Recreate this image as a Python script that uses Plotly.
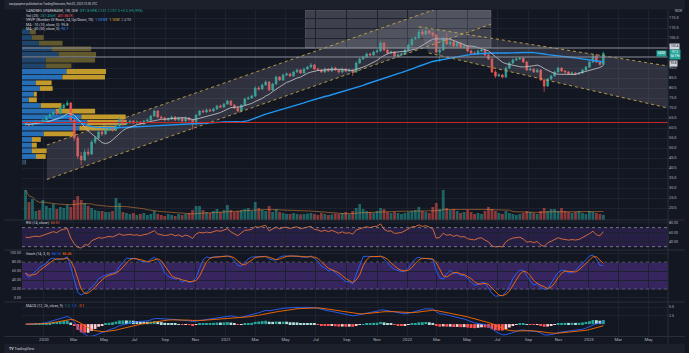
import numpy as np
import pandas as pd
import plotly.graph_objects as go

# ------------------------------------------------------------------ data
week_start = "2019-11-25"

opens = [61.8, 62.0, 61.5, 62.5, 63.0, 62.6, 64.0, 65.5, 66.8, 68.0,
         67.2, 70.0, 71.5, 72.5, 64.0, 55.0, 46.0, 44.0, 48.0, 47.0,
         53.0, 55.0, 58.0, 57.0, 59.0, 60.0, 59.0, 61.0, 64.0, 62.0,
         62.5, 63.5, 62.5, 63.0, 62.0, 63.5, 64.0, 66.0, 68.5, 65.5,
         65.0, 64.0, 64.5, 65.5, 64.0, 65.0, 63.5, 65.0, 64.0, 62.0,
         66.5, 68.5, 68.0, 69.0, 68.5, 69.5, 71.0, 70.5, 72.0, 73.5,
         71.5, 70.0, 68.5, 71.5, 74.5, 75.0, 76.0, 80.0, 79.5, 81.5,
         83.0, 79.0, 82.0, 85.5, 84.0, 86.5, 87.0, 86.0, 88.0, 89.0,
         87.5, 89.5, 90.5, 91.5, 89.5, 89.0, 88.0, 89.5, 88.5, 90.0,
         89.0, 88.0, 89.5, 88.5, 89.0, 88.0, 92.5, 94.5, 95.5, 97.0,
         96.5, 98.0, 98.5, 102.5, 99.0, 97.5, 98.0, 96.0, 96.5, 97.0,
         99.0, 101.5, 104.5, 105.0, 108.0, 107.0, 108.5, 107.5, 106.5, 98.0,
         99.0, 104.5, 102.0, 103.0, 101.0, 102.5, 100.5, 101.0, 98.5, 97.5,
         97.0, 98.5, 99.0, 96.5, 94.5, 88.0, 86.0, 86.5, 85.5, 90.0,
         92.5, 94.0, 94.5, 95.0, 93.0, 89.0, 89.5, 88.0, 89.0, 84.0,
         81.0, 84.5, 86.0, 88.0, 90.0, 88.5, 88.0, 87.0, 87.5, 87.0,
         87.5, 89.0, 90.5, 93.0, 96.0, 93.0, 91.8]

highs = [62.8, 62.6, 63.2, 63.8, 63.6, 64.6, 66.2, 67.5, 68.8, 69.0,
         70.8, 72.3, 73.8, 73.0, 64.5, 56.0, 48.0, 49.5, 50.0, 54.0,
         56.0, 58.8, 59.2, 59.8, 61.0, 60.8, 61.6, 65.5, 64.5, 63.3,
         64.2, 64.0, 63.8, 63.5, 64.0, 64.8, 66.6, 69.2, 69.0, 66.2,
         65.6, 65.3, 66.2, 66.0, 65.6, 65.5, 65.8, 65.5, 64.5, 67.0,
         69.0, 69.2, 69.8, 69.6, 70.2, 71.6, 71.8, 72.6, 74.2, 74.0,
         72.0, 71.0, 72.0, 75.2, 75.8, 76.8, 80.8, 81.0, 82.2, 83.8,
         83.5, 82.6, 86.2, 86.0, 87.2, 87.8, 87.6, 88.6, 89.8, 89.5,
         90.2, 91.2, 92.5, 92.0, 90.2, 89.6, 90.2, 90.0, 90.8, 90.6,
         89.5, 90.2, 90.0, 89.8, 89.4, 93.2, 95.2, 96.2, 97.8, 97.6,
         98.7, 99.5, 103.5, 103.0, 99.6, 98.8, 98.5, 97.3, 97.8, 99.8,
         102.3, 105.3, 106.0, 109.5, 109.0, 109.3, 109.0, 108.2, 107.0, 100.5,
         105.5, 107.5, 104.0, 103.8, 103.5, 103.0, 102.0, 101.5, 99.2, 98.2,
         99.3, 100.0, 99.5, 97.0, 95.0, 89.0, 87.5, 87.2, 90.6, 93.2,
         94.8, 95.3, 95.6, 95.4, 93.5, 90.3, 90.0, 89.8, 89.5, 84.6,
         85.0, 86.6, 88.6, 90.6, 90.4, 89.0, 88.5, 88.2, 88.0, 88.0,
         89.6, 91.0, 93.6, 96.8, 97.0, 93.8, 98.2]

lows = [61.0, 60.8, 61.0, 62.0, 62.0, 62.3, 63.5, 65.0, 66.2, 66.5,
        66.8, 69.5, 71.0, 63.0, 53.5, 44.5, 41.5, 43.5, 46.0, 46.5,
        52.0, 54.5, 56.0, 56.5, 58.5, 58.2, 58.5, 60.5, 61.0, 61.5,
        62.0, 62.0, 62.0, 61.5, 61.5, 63.0, 63.5, 65.5, 65.0, 64.5,
        63.5, 63.5, 64.0, 63.5, 63.5, 63.0, 63.0, 63.5, 59.0, 61.5,
        66.0, 67.5, 67.5, 68.0, 68.0, 69.0, 70.0, 70.0, 71.5, 71.0,
        69.5, 67.8, 68.0, 71.0, 74.0, 74.5, 75.5, 78.8, 79.0, 81.0,
        78.5, 78.5, 81.5, 83.5, 83.5, 86.0, 85.5, 85.5, 87.5, 87.0,
        87.0, 89.0, 90.0, 89.0, 88.5, 87.5, 87.5, 88.0, 88.0, 88.5,
        87.2, 87.5, 88.0, 88.0, 86.0, 87.5, 92.0, 94.0, 95.0, 96.0,
        96.0, 97.5, 98.0, 98.5, 96.5, 96.8, 95.5, 95.2, 96.0, 96.5,
        98.5, 101.0, 104.0, 104.5, 106.0, 106.5, 106.8, 105.5, 97.5, 93.0,
        98.5, 101.5, 101.0, 100.5, 100.5, 100.0, 99.8, 98.0, 96.8, 96.5,
        96.5, 98.0, 96.0, 94.0, 87.5, 85.0, 85.5, 84.8, 85.0, 89.5,
        92.0, 93.5, 94.0, 92.5, 88.5, 88.5, 87.5, 87.5, 83.5, 78.0,
        80.5, 84.0, 85.5, 87.5, 88.0, 87.2, 86.5, 86.5, 86.3, 86.5,
        87.0, 88.5, 90.0, 92.5, 92.5, 91.2, 91.2]

closes = [62.0, 61.5, 62.5, 63.0, 62.6, 64.0, 65.5, 66.8, 68.0, 67.2,
          70.0, 71.5, 72.5, 64.0, 55.0, 46.0, 44.0, 48.0, 47.0, 53.0,
          55.0, 58.0, 57.0, 59.0, 60.0, 59.0, 61.0, 64.0, 62.0, 62.5,
          63.5, 62.5, 63.0, 62.0, 63.5, 64.0, 66.0, 68.5, 65.5, 65.0,
          64.0, 64.5, 65.5, 64.0, 65.0, 63.5, 65.0, 64.0, 62.0, 66.5,
          68.5, 68.0, 69.0, 68.5, 69.5, 71.0, 70.5, 72.0, 73.5, 71.5,
          70.0, 68.5, 71.5, 74.5, 75.0, 76.0, 80.0, 79.5, 81.5, 83.0,
          79.0, 82.0, 85.5, 84.0, 86.5, 87.0, 86.0, 88.0, 89.0, 87.5,
          89.5, 90.5, 91.5, 89.5, 89.0, 88.0, 89.5, 88.5, 90.0, 89.0,
          88.0, 89.5, 88.5, 89.0, 88.0, 92.5, 94.5, 95.5, 97.0, 96.5,
          98.0, 98.5, 102.5, 99.0, 97.5, 98.0, 96.0, 96.5, 97.0, 99.0,
          101.5, 104.5, 105.0, 108.0, 107.0, 108.5, 107.5, 106.5, 98.0, 99.0,
          104.5, 102.0, 103.0, 101.0, 102.5, 100.5, 101.0, 98.5, 97.5, 97.0,
          98.5, 99.0, 96.5, 94.5, 88.0, 86.0, 86.5, 85.5, 90.0, 92.5,
          94.0, 94.5, 95.0, 93.0, 89.0, 89.5, 88.0, 89.0, 84.0, 81.0,
          84.5, 86.0, 88.0, 90.0, 88.5, 88.0, 87.0, 87.5, 87.0, 87.5,
          89.0, 90.5, 93.0, 96.0, 93.0, 91.8, 97.3]

volumes_k = [1500, 900, 1050, 450, 500, 1000, 700, 600, 800, 550,
             650, 600, 750, 650, 1000, 1200, 1000, 850, 700, 600,
             500, 450, 450, 400, 400, 450, 1100, 850, 400, 350,
             300, 350, 250, 300, 350, 250, 300, 450, 300, 250,
             200, 300, 250, 200, 300, 250, 300, 350, 500, 700,
             700, 500, 400, 350, 450, 550, 400, 500, 750, 500,
             400, 450, 500, 550, 600, 450, 900, 600, 500, 450,
             700, 400, 550, 400, 350, 300, 300, 350, 300, 280,
             300, 320, 350, 300, 250, 350, 300, 250, 280, 320,
             300, 350, 400, 300, 450, 600, 800, 550, 450, 400,
             350, 450, 600, 550, 400, 350, 400, 350, 300, 350,
             400, 450, 500, 650, 450, 400, 350, 650, 850, 550,
             1500, 600, 500, 550, 450, 350, 400, 500, 400, 300,
             350, 300, 450, 650, 550, 450, 350, 300, 450, 350,
             300, 250, 300, 350, 450, 400, 350, 300, 450, 600,
             450, 550, 550, 450, 600, 450, 400, 350, 400, 450,
             350, 300, 450, 400, 350, 300, 257]

# volume profile (24 rows, bottom row first), thousand shares
vp_up_k = [180, 840, 600, 600, 600, 1320, 3480, 3960, 3600, 2040, 1140, 420,
           720, 1080, 840, 2460, 2700, 1440, 1440, 2220, 1800, 1020, 600, 480]
vp_down_k = [60, 600, 900, 300, 540, 1920, 2220, 2400, 2700, 2400, 1260, 480,
             180, 780, 960, 2580, 2400, 1560, 3000, 2280, 2400, 1440, 720, 360]
vp_in_value_area = [False] + [True] * 16 + [False] * 7

tick_dates = ["2020-01-01", "2020-03-01", "2020-05-01", "2020-07-01", "2020-09-01", "2020-11-01",
              "2021-01-01", "2021-03-01", "2021-05-01", "2021-07-01", "2021-09-01", "2021-11-01",
              "2022-01-01", "2022-03-01", "2022-05-01", "2022-07-01", "2022-09-01", "2022-11-01",
              "2023-01-01", "2023-03-01", "2023-05-01"]
tick_text = ["2020", "Mar", "May", "Jul", "Sep", "Nov",
             "2021", "Mar", "May", "Jul", "Sep", "Nov",
             "2022", "Mar", "May", "Jul", "Sep", "Nov",
             "2023", "Mar", "May"]
# price scale labels (100 and 95 are hidden behind the price tags)
price_ticks = [20, 25, 30, 35, 40, 45, 50, 55, 60, 65, 70, 75, 80, 85, 90, 105, 110, 115]

# user drawings (date, price)
asc_upper = [("2020-01-07", 51.5), ("2022-06-18", 129.1)]
asc_lower = [("2020-01-07", 34.25), ("2022-06-18", 111.9)]
desc_upper = [("2022-01-24", 110.6), ("2023-06-09", 91.0)]
desc_lower = [("2022-02-13", 97.5), ("2023-06-09", 70.0)]
box_zone = [("2021-06-10", 100.0), ("2022-06-18", 119.0)]
hlines = [100.0, 95.5]

n = len(closes)
for arr in (opens, highs, lows, volumes_k):
    assert len(arr) == n
assert len(vp_up_k) == len(vp_down_k) == len(vp_in_value_area)

dates = pd.date_range(week_start, periods=n, freq="W-MON")

# ------------------------------------------------------------------ indicators
c = pd.Series(closes)
ma10 = c.rolling(10, min_periods=1).mean()
ma50 = c.rolling(50, min_periods=1).mean()

# RSI (Wilder), warm-started from a neutral state
d = np.diff(np.array(closes), prepend=closes[0])
seed = float(np.mean(np.abs(d[1:15]))) / 2
ag, al = seed, seed
rsi = []
for x in d:
    ag = (ag * 13 + max(x, 0.0)) / 14
    al = (al * 13 + max(-x, 0.0)) / 14
    rsi.append(100 * ag / (ag + al))

hh = pd.Series(highs).rolling(14, min_periods=1).max()
ll = pd.Series(lows).rolling(14, min_periods=1).min()
raw_k = 100 * (c - ll) / (hh - ll)
st_k = raw_k.rolling(3, min_periods=1).mean()
st_d = st_k.rolling(3, min_periods=1).mean()

ema12 = c.ewm(span=12, adjust=False).mean()
ema26 = c.ewm(span=26, adjust=False).mean()
macd = ema12 - ema26
signal = macd.ewm(span=9, adjust=False).mean()
hist = macd - signal
hist_col = []
for i in range(n):
    h = hist[i]
    prev = hist[i - 1] if i > 0 else 0
    if h >= 0:
        hist_col.append("#26a69a" if h >= prev else "#b2dfdb")
    else:
        hist_col.append("#ff5252" if h < prev else "#ffcdd2")

vol_ma = pd.Series(volumes_k).rolling(20, min_periods=1).mean()
vol_col = ["rgba(38,166,154,0.55)" if cl >= op else "rgba(239,83,80,0.55)" for op, cl in zip(opens, closes)]

# ------------------------------------------------------------------ layout helpers
W, H = 689, 353
ML, MR, MT, MB = 18, 17, 10, 17
PW, PH = W - ML - MR, H - MT - MB
FONT = "Roboto"
X_RANGE = ["2019-11-18", "2023-06-09"]


def px(x):
    return (x - ML) / PW


def py(y):
    return (H - MB - y) / PH


fig = go.Figure()

# volume profile as horizontal bars on the date axis
lo, hi = min(lows), max(highs)
nrows = len(vp_up_k)
step = (hi - lo) / nrows
centers = [lo + step * (k + 0.5) for k in range(nrows)]
x_left = pd.Timestamp(X_RANGE[0])
span_ms = (pd.Timestamp(X_RANGE[1]) - x_left).total_seconds() * 1000
VP_FULL_K = 39240.0
ms_per_k = span_ms / VP_FULL_K
up_col = ["rgba(41,121,200,0.9)" if v else "rgba(33,74,116,0.9)" for v in vp_in_value_area]
dn_col = ["rgba(214,168,44,0.9)" if v else "rgba(108,95,48,0.9)" for v in vp_in_value_area]
fig.add_trace(go.Bar(orientation="h", y=centers, x=[v * ms_per_k for v in vp_up_k],
                     base=[x_left.isoformat()] * nrows, width=step * 0.84,
                     marker=dict(color=up_col, line=dict(width=0)), hoverinfo="skip"))
fig.add_trace(go.Bar(orientation="h", y=centers, x=[v * ms_per_k for v in vp_down_k],
                     base=[(x_left + pd.Timedelta(milliseconds=v * ms_per_k)).isoformat() for v in vp_up_k],
                     width=step * 0.84, marker=dict(color=dn_col, line=dict(width=0)), hoverinfo="skip"))
poc_row = int(np.argmax(np.array(vp_up_k) + np.array(vp_down_k)))
poc_price = centers[poc_row]

# channels (fill + dotted borders)
GOLD = "rgba(196,164,72,0.9)"
for up, dn in ((asc_upper, asc_lower), (desc_upper, desc_lower)):
    fig.add_trace(go.Scatter(x=[up[0][0], up[1][0], dn[1][0], dn[0][0], up[0][0]],
                             y=[up[0][1], up[1][1], dn[1][1], dn[0][1], up[0][1]],
                             mode="lines", fill="toself", fillcolor="rgba(150,150,162,0.22)",
                             line=dict(width=0), hoverinfo="skip"))
    for ln in (up, dn):
        fig.add_trace(go.Scatter(x=[ln[0][0], ln[1][0]], y=[ln[0][1], ln[1][1]], mode="lines",
                                 line=dict(color=GOLD, width=1, dash="dot"), hoverinfo="skip"))

# volume
fig.add_trace(go.Bar(x=dates, y=volumes_k, yaxis="y2", marker=dict(color=vol_col, line=dict(width=0)),
                     hoverinfo="skip"))
fig.add_trace(go.Scatter(x=dates, y=vol_ma, yaxis="y2", mode="lines",
                         line=dict(color="rgba(230,140,60,0.65)", width=0.8), hoverinfo="skip"))

# moving averages and candles
fig.add_trace(go.Scatter(x=dates, y=ma50, mode="lines", line=dict(color="#2196f3", width=1.4), hoverinfo="skip"))
fig.add_trace(go.Scatter(x=dates, y=ma10, mode="lines", line=dict(color="#b8bac2", width=0.9), hoverinfo="skip"))
fig.add_trace(go.Candlestick(x=dates, open=opens, high=highs, low=lows, close=closes,
                             increasing=dict(line=dict(color="#26a69a", width=0.7), fillcolor="#26a69a"),
                             decreasing=dict(line=dict(color="#ef5350", width=0.7), fillcolor="#ef5350"),
                             whiskerwidth=0, hoverinfo="skip"))

# RSI
fig.add_trace(go.Scatter(x=dates, y=rsi, yaxis="y3", mode="lines",
                         line=dict(color="#e0703c", width=0.9), hoverinfo="skip"))
# Stoch
fig.add_trace(go.Scatter(x=dates, y=st_k, yaxis="y4", mode="lines", line=dict(color="#2962ff", width=0.9),
                         hoverinfo="skip"))
fig.add_trace(go.Scatter(x=dates, y=st_d, yaxis="y4", mode="lines", line=dict(color="#ff6d00", width=0.9),
                         hoverinfo="skip"))
# MACD
fig.add_trace(go.Bar(x=dates, y=hist, yaxis="y5", marker=dict(color=hist_col, line=dict(width=0)),
                     hoverinfo="skip"))
fig.add_trace(go.Scatter(x=dates, y=macd, yaxis="y5", mode="lines", line=dict(color="#2962ff", width=0.9),
                         hoverinfo="skip"))
fig.add_trace(go.Scatter(x=dates, y=signal, yaxis="y5", mode="lines", line=dict(color="#ff6d00", width=0.9),
                         hoverinfo="skip"))

GRID = "#1e2230"
TICKC = "#b2b5be"
SEP = "#2a2e39"
shapes = []
# header / footer strips
shapes.append(dict(type="rect", xref="paper", yref="paper", x0=px(0), x1=px(W), y0=py(MT - 0.5), y1=py(0),
                   fillcolor="#1c202b", line=dict(width=0), layer="below"))
shapes.append(dict(type="rect", xref="paper", yref="paper", x0=px(0), x1=px(W), y0=py(H), y1=py(344),
                   fillcolor="#1c202b", line=dict(width=0), layer="below"))
# drawn box
shapes.append(dict(type="rect", xref="x", yref="y", x0=box_zone[0][0], x1=box_zone[1][0],
                   y0=box_zone[0][1], y1=box_zone[1][1], fillcolor="rgba(185,185,195,0.26)",
                   line=dict(color="rgba(160,160,170,0.5)", width=0.6), layer="below"))
for hv in hlines:
    shapes.append(dict(type="line", xref="x domain", yref="y", x0=0, x1=1, y0=hv, y1=hv,
                       line=dict(color="#8d9099", width=1)))
shapes.append(dict(type="line", xref="x domain", yref="y", x0=0, x1=1, y0=poc_price, y1=poc_price,
                   line=dict(color="#c62828", width=1)))
# RSI band
shapes.append(dict(type="rect", xref="x domain", yref="y3", x0=0, x1=1, y0=30, y1=70,
                   fillcolor="rgba(110,60,190,0.24)", line=dict(width=0), layer="below"))
for lv in (70, 30):
    shapes.append(dict(type="line", xref="x domain", yref="y3", x0=0, x1=1, y0=lv, y1=lv,
                       line=dict(color="#8a8d96", width=0.8, dash="dot")))
# Stoch band
shapes.append(dict(type="rect", xref="x domain", yref="y4", x0=0, x1=1, y0=20, y1=80,
                   fillcolor="rgba(110,60,190,0.40)", line=dict(width=0), layer="below"))
for lv in (80, 20):
    shapes.append(dict(type="line", xref="x domain", yref="y4", x0=0, x1=1, y0=lv, y1=lv,
                       line=dict(color="#6e6a86", width=0.7, dash="dot")))
# pane separators
for yy in (220, 250, 302, 336.5):
    shapes.append(dict(type="line", xref="paper", yref="paper", x0=px(0), x1=px(W), y0=py(yy), y1=py(yy),
                       line=dict(color=SEP, width=1)))
shapes.append(dict(type="line", xref="paper", yref="paper", x0=1, x1=1, y0=py(344), y1=py(MT),
                   line=dict(color=SEP, width=1)))


def ann(x, y, text, size=3.6, color="#d1d4dc", xanchor="left", yanchor="middle", bg=None):
    dd = dict(xref="paper", yref="paper", x=px(x), y=py(y), text=text, showarrow=False,
              xanchor=xanchor, yanchor=yanchor, font=dict(size=size, color=color, family=FONT))
    if bg:
        dd.update(bgcolor=bg, borderpad=0.4)
    return dd


def sp(t, col):
    return f"<span style='color:{col}'>{t}</span>"


TEAL, RED, BLUE, ORANGE, YEL = "#26a69a", "#ef5350", "#2962ff", "#ff6d00", "#e0b030"
annotations = [
    ann(3, 4.5, "sanyipapene published on TradingView.com, Feb 02, 2023 13:35 UTC", size=2.9),
    ann(20, 11, "SANDNES SPAREBANK, 1W, OSE  " + sp("O91.8 H98.2 L91.2 C97.3 +5.5 (+5.99%)", TEAL)),
    ann(20, 15.6, "Vol (20)  " + sp("257.456K", TEAL) + "  " + sp("401.861K", RED)),
    ann(20, 20.2, "VRVP (Number Of Rows, 24, Up/Down, 70)  " + sp("1.369M", "#3d8be0") + "  "
        + sp("1.16M", YEL) + "  " + sp("2.47M", "#9598a1")),
    ann(20, 24.8, "MA - 10 (10, close, 0)  " + sp("95.8", "#d1d4dc")),
    ann(20, 29.4, "MA - 50 (50, close, 0)  " + sp("90.7", "#2196f3")),
    ann(20, 223, "RSI (14, close)  " + sp("63.51", "#e0703c")),
    ann(20, 253.5, "Stoch (14, 3, 3)  " + sp("84.14", BLUE) + "  " + sp("86.46", ORANGE)),
    ann(20, 305.5, "MACD (12, 26, close, 9)  " + sp("1.2", TEAL) + "  " + sp("1.3", BLUE) + "  " + sp("-0.1", ORANGE)),
    ann(677, 11, "NOK", size=3.6, color=TICKC),
    ann(673.5, 46.8, "100.4", size=3.2, color="#131722", bg="#d1d4dc"),
    ann(673.5, 55.0, "97.3<br>5d 19h", size=3.0, color="#ffffff", bg=TEAL),
    ann(673.5, 63.2, "95.8", size=3.2, color="#131722", bg="#d1d4dc"),
    ann(670.5, 53.2, "SADG", size=3.0, color="#ffffff", xanchor="right", bg=TEAL),
    ann(3, 349, "<b>TV</b> TradingView", size=3.6),
]

fig.update_layout(
    width=W, height=H, margin=dict(l=ML, r=MR, t=MT, b=MB, pad=0),
    paper_bgcolor="#131722", plot_bgcolor="#131722",
    showlegend=False, barmode="overlay", bargap=0.2,
    font=dict(family=FONT, color=TICKC, size=4),
    shapes=shapes, annotations=annotations,
    xaxis=dict(type="date", range=X_RANGE, anchor="y5", domain=[0, 1],
               tickvals=tick_dates, ticktext=tick_text, showgrid=True, gridcolor=GRID, gridwidth=1,
               zeroline=False, showline=False, ticks="", tickfont=dict(size=4.3, color=TICKC),
               rangeslider=dict(visible=False), fixedrange=True),
    yaxis=dict(domain=[py(220), 1], range=[14, 119], side="right", anchor="x",
               tickvals=price_ticks, tickformat=".1f", showgrid=True, gridcolor=GRID,
               zeroline=False, ticks="", tickfont=dict(size=3.8, color=TICKC), fixedrange=True),
    yaxis2=dict(overlaying="y", anchor="x", range=[0, 10500], visible=False, fixedrange=True),
    yaxis3=dict(domain=[py(250), py(220)], range=[23, 86], side="right", anchor="x",
                tickvals=[40, 60, 80], ticktext=["40.00", "60.00", "80.00"], showgrid=True, gridcolor=GRID,
                zeroline=False, ticks="", tickfont=dict(size=3.6, color=TICKC)),
    yaxis4=dict(domain=[py(302), py(250)], range=[-9, 107], side="left", anchor="x",
                tickvals=[0, 20, 40, 60, 80, 100],
                ticktext=["0.00", "20.00", "40.00", "60.00", "80.00", "100.00"], showgrid=True, gridcolor=GRID,
                zeroline=False, ticks="", tickfont=dict(size=3.6, color=TICKC)),
    yaxis5=dict(domain=[0, py(302)], range=[-3.5, 6.5], side="right", anchor="x",
                tickvals=[2.5, 5.0], ticktext=["2.5", "5.0"], showgrid=True, gridcolor=GRID,
                zeroline=False, ticks="", tickfont=dict(size=3.6, color=TICKC)),
)

fig.write_html("out.html")
